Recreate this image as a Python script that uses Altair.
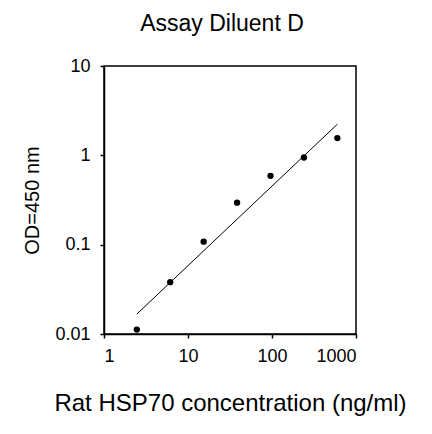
import altair as alt
import pandas as pd

conc = [2.46, 6.14, 15.36, 38.4, 96, 240, 600]
od = [0.0112, 0.038, 0.108, 0.295, 0.59, 0.946, 1.56]
fit_x = [2.46, 600]
fit_y = [0.0167, 2.23]
x_ticks = [1, 10, 100, 1000]
y_ticks = [0.01, 0.1, 1, 10]

pts = pd.DataFrame({"x": conc, "y": od})
fit = pd.DataFrame({"x": fit_x, "y": fit_y})

FONT = "Liberation Sans"

xs = alt.Scale(type="log", domain=[1, 1000], nice=False)
ys = alt.Scale(type="log", domain=[0.01, 10], nice=False)

xax = alt.Axis(values=x_ticks, format="~g", title="Rat HSP70 concentration (ng/ml)",
               grid=False, tickSize=4, labelPadding=9, labelFontSize=18,
               labelFontWeight="normal",
               titleFontSize=24, titleFontWeight="normal", titlePadding=26,
               labelFont=FONT, titleFont=FONT, domainColor="black", tickColor="black",
               labelColor="black", titleColor="black", domainWidth=1.5, tickWidth=1.5)
yax = alt.Axis(values=y_ticks, format="~g", title="OD=450 nm",
               grid=False, tickSize=4, labelPadding=10, labelFontSize=18,
               labelFontWeight="normal",
               titleFontSize=20, titleFontWeight="normal", titlePadding=12,
               labelFont=FONT, titleFont=FONT, domainColor="black", tickColor="black",
               labelColor="black", titleColor="black", domainWidth=1.5, tickWidth=1.5)

line = alt.Chart(fit).mark_line(color="black", strokeWidth=1).encode(
    x=alt.X("x:Q", scale=xs, axis=xax),
    y=alt.Y("y:Q", scale=ys, axis=yax),
)
dots = alt.Chart(pts).mark_circle(color="black", opacity=1, size=40).encode(
    x=alt.X("x:Q", scale=xs),
    y=alt.Y("y:Q", scale=ys),
)

chart = (line + dots).properties(
    width=252, height=268,
    autosize=alt.AutoSizeParams(type="none"),
    padding={"left": 96, "top": 58, "right": 60, "bottom": 92},
    title=alt.TitleParams("Assay Diluent D", font=FONT, fontSize=23, fontWeight="normal",
                          color="black", anchor="middle", offset=21, dx=-8),
).configure_view(stroke="black", strokeWidth=1.5)

chart.save("out.html", embed_options={"renderer": "svg", "actions": False})
